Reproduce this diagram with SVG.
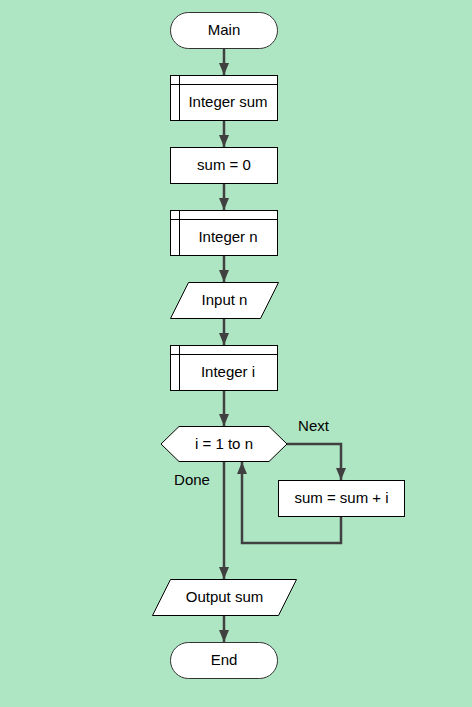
<svg xmlns="http://www.w3.org/2000/svg" width="472" height="707" viewBox="0 0 472 707">
<style>
.node{fill:#ffffff;stroke:#000000;stroke-width:1}
.term{fill:#ffffff;stroke:#333333;stroke-width:1}
.inner{stroke:#000000;stroke-width:1;fill:none}
.t{font-family:"Liberation Sans",Arial,sans-serif;font-size:15px;fill:#000000;text-anchor:middle}
.lbl{font-family:"Liberation Sans",Arial,sans-serif;font-size:15px;fill:#000000;text-anchor:middle}
.c{fill:none;stroke:#404040;stroke-width:2.5;marker-end:url(#ah)}
</style>
<defs>
<marker id="ah" viewBox="0 0 12 10" refX="12" refY="5" markerWidth="12" markerHeight="10" markerUnits="userSpaceOnUse" orient="auto">
<path d="M0,0 L12,5 L0,10 z" fill="#404040"/>
</marker>
</defs>
<rect x="0" y="0" width="472" height="707" fill="#aee6c4"/>
<g id="connectors">
<path class="c" d="M224,48 V75"/>
<path class="c" d="M224,120 V147"/>
<path class="c" d="M224,183 V210"/>
<path class="c" d="M224,255 V282"/>
<path class="c" d="M224,318 V345"/>
<path class="c" d="M224,390 V426"/>
<path class="c" d="M287,444 H341 V480"/>
<path class="c" d="M341,516 V543 H242 V462"/>
<path class="c" d="M224,462 V579"/>
<path class="c" d="M224,615 V642"/>
<text class="lbl" x="313.5" y="431">Next</text>
<text class="lbl" x="192" y="485">Done</text>
</g>
<g id="main">
<rect class="term" x="170.5" y="12.5" width="107" height="36" rx="18" ry="18"/>
<text class="t" x="224" y="35">Main</text>
</g>
<g id="decl_sum">
<rect class="node" x="170.5" y="75.5" width="107" height="45"/>
<path class="inner" d="M179.5,75.5 V120.5 M170.5,84.5 H277.5"/>
<text class="t" x="228" y="107">Integer sum</text>
</g>
<g id="assign_sum">
<rect class="node" x="170.5" y="147.5" width="107" height="36"/>
<text class="t" x="224" y="170">sum = 0</text>
</g>
<g id="decl_n">
<rect class="node" x="170.5" y="210.5" width="107" height="45"/>
<path class="inner" d="M179.5,210.5 V255.5 M170.5,219.5 H277.5"/>
<text class="t" x="228" y="242">Integer n</text>
</g>
<g id="input_n">
<polygon class="node" points="188.5,282.5 278.5,282.5 260.5,318.5 170.5,318.5"/>
<text class="t" x="224.5" y="305">Input n</text>
</g>
<g id="decl_i">
<rect class="node" x="170.5" y="345.5" width="107" height="45"/>
<path class="inner" d="M179.5,345.5 V390.5 M170.5,354.5 H277.5"/>
<text class="t" x="228" y="377">Integer i</text>
</g>
<g id="for_loop">
<polygon class="node" points="161,444 179,426.5 269,426.5 287,444 269,461.5 179,461.5"/>
<text class="t" x="224" y="449">i = 1 to n</text>
</g>
<g id="assign_loop">
<rect class="node" x="278.5" y="480.5" width="126" height="36"/>
<text class="t" x="341.5" y="503">sum = sum + i</text>
</g>
<g id="output_sum">
<polygon class="node" points="170.5,579.5 296.5,579.5 278.5,615.5 152.5,615.5"/>
<text class="t" x="224.5" y="602">Output sum</text>
</g>
<g id="end">
<rect class="term" x="170.5" y="642.5" width="107" height="36" rx="18" ry="18"/>
<text class="t" x="224" y="665">End</text>
</g>
</svg>
